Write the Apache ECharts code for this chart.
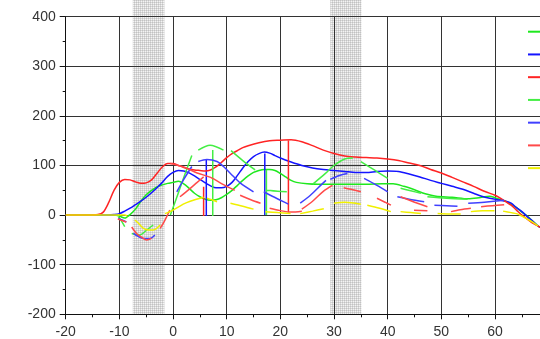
<!DOCTYPE html>
<html><head><meta charset="utf-8">
<script src="https://cdn.jsdelivr.net/npm/echarts@6/dist/echarts.min.js"></script>
<style>html,body{margin:0;padding:0;background:#fff;overflow:hidden}#c{width:540px;height:339px}</style>
</head><body><div id="c"></div>
<script>
// ---- data ----
const xRange = [-20, 70];
const yRange = [-200, 400];
const bands = [[-7.5, -1.6], [29.3, 35.1]];
const seriesNames = ['Series 1', 'Series 2', 'Series 3', 'Series 4', 'Series 5', 'Series 6', 'Series 7'];
const seriesColors = ['#1ee81e', '#1414ff', '#ff2424', '#44ee44', '#4040ff', '#ff4a4a', '#f0f000'];

const greenMain = [[[-20,0],[-11,0],[-10,-2],[-9,-6],[-8.5,-3],[-8,1],[-7,12],[-6,28],[-5,41],[-4,50],[-3,57],[-2,61],[-1,64],[0,66],[1,68],[2,63],[3,54],[4,44],[5,37],[6,32],[7,30],[8,31],[9,35],[10,42],[11,50],[12,60],[13,70],[14,79],[15,86],[16,90],[17,92],[18,92],[19,90],[20,84],[21,77],[22,70],[23,66],[25,63],[27,62],[30,62],[33,62],[36,62],[39,63],[41,63],[43,58],[45,51],[47,43],[49,38],[52,36],[55,33],[57,35],[59,38],[60,35],[61,31],[62,28],[63,22],[64,15],[65,6],[66,-2],[67,-12],[68,-22],[69,-28],[70,-34]]];
const blueMain = [[[-20,0],[-12,0],[-11,1],[-10,3],[-9,8],[-8,14],[-7,21],[-6,28],[-5,36],[-4,45],[-3,55],[-2,66],[-1,78],[0,86],[1,90],[2,89],[3,85],[4,79],[5,72],[6,65],[7,59],[8,55],[9,55],[10,58],[11,66],[12,80],[13,95],[14,108],[15,118],[16,124],[17,127],[18,125],[19,120],[20,115],[22,107],[24,100],[26,95],[28,92],[30,90],[32,88],[34,86],[36,86],[38,88],[40,89],[42,88],[44,83],[46,77],[48,70],[50,64],[52,58],[54,52],[56,44],[57.5,38],[59,34],[61,30],[62,28],[63,24],[64,15],[65,7],[66,-3],[67,-12],[68,-22],[69,-28],[70,-34]],
  [[6.2,111],[6.2,-2]], [[17.1,124],[17.1,0]]];
const redMain = [[[-20,0],[-16,0],[-14,1],[-13,6],[-12,25],[-11,50],[-10,66],[-9,72],[-8,71],[-7,67],[-6,64],[-5,65],[-4,71],[-3,84],[-2,97],[-1,104],[0,104],[1,100],[2,96],[3,93],[4,91],[5,90],[6,89],[7,91],[8,97],[9,106],[10,116],[11,124],[12,130],[13,136],[14,140],[16,146],[18,150],[20,151],[22,152],[24,148],[26,140],[28,131],[30,124],[32,119],[34,117],[36,116],[38,115],[40,113],[42,110],[44,105],[46,100],[48,92],[50,85],[52,76],[54,67],[56,58],[58,48],[60,40],[61,34],[62,27],[63,20],[64,10],[65,0],[66,-8],[67,-16],[68,-22],[69,-28],[70,-34]],
  [[21.5,151],[21.5,5]], [[5.7,57],[5.7,-2]]];
const greenSecond = [
  [[-10.2,-3],[-9.6,-12],[-9,-23]],
  [[-7.7,-37],[-6.2,-40],[-4.9,-30],[-3.7,-20]],
  [[-0.5,0],[1,45],[2.3,85],[3.5,120]],
  [[4.7,131],[6.9,141],[9.4,131]],
  [[7.4,131],[7.4,-2]], [[17.4,91],[17.4,0]],
  [[10.8,130],[13,110],[15.3,91]],
  [[17.5,50],[19.5,48],[21.2,47]],
  [[26,62],[28.4,84],[30,100],[32,113],[33.5,115]],
  [[35,108],[37.5,91],[40,74]],
  [[42.4,54],[44.3,49],[46.2,44]],
  [[47.4,37],[51,34],[54.9,32]]];
const blueSecond = [
  [[-10.2,-7],[-9.5,-10],[-8.7,-14]],
  [[-7.4,-37],[-6.5,-43],[-5.5,-47],[-4.3,-47],[-3.4,-40]],
  [[0.7,47],[2,72],[3.5,98]],
  [[4.7,108],[6.3,112],[8.2,108],[9.4,98],[10.7,84],[12.5,65],[15,47]],
  [[16.9,47],[18.5,38],[20,30],[21.5,22]],
  [[23.7,24],[25.6,40],[27.7,62],[28.5,70]],
  [[29.3,72],[31,80],[32.5,84]],
  [[35.6,74],[38,60],[40,47]],
  [[41.8,37],[44,32],[46.8,27]],
  [[48.7,20],[51,19],[53,18]],
  [[55,24],[58,26],[61.7,30]]];
const redSecond = [
  [[-10.3,-8],[-9.5,-11],[-8.7,-14]],
  [[-7.7,-24],[-6.8,-37],[-5.8,-45],[-4.9,-50],[-4,-47]],
  [[-2.4,-27],[-1.5,-10],[-0.6,10]],
  [[-0.5,104],[2,97],[4.5,85],[7,76],[9.3,62],[11.5,50]],
  [[1.3,37],[3,52],[4.5,66],[5.7,77]],
  [[12.5,40],[14.5,31],[16.3,24]],
  [[18,14],[20,9],[22,6],[24,8]],
  [[24,12],[26,28],[28,48],[29.7,60]],
  [[31.8,55],[33.5,51],[35,47]],
  [[38,34],[39.5,26],[40.6,20]],
  [[42.4,37],[45,26],[47.4,17]],
  [[44.9,10],[47.4,9]],
  [[51.8,7],[53.5,11],[55.5,14]],
  [[57.4,17],[59.5,19],[61.7,21]]];
const yellowLines = [
  [[-20,0],[-9,0],[-8.5,-2]],
  [[-7.1,-10],[-6.3,-18],[-5.5,-27],[-4.6,-30],[-3.7,-30],[-2.4,-20]],
  [[-1.5,3],[0,10],[1.9,22],[3.2,28],[5.7,36]],
  [[6.3,34],[7.2,31],[8.2,27]],
  [[10.7,24],[13,18],[15,12]],
  [[17.2,7],[19.5,5],[21.9,3]],
  [[23.7,3],[26,8],[28.1,13]],
  [[30,24],[32,26],[35,22]],
  [[36.2,20],[38.5,14],[40.6,7]],
  [[42.4,7],[44.3,5],[46.2,3]],
  [[49.3,3],[51.5,2],[53.6,2]],
  [[55.5,7],[57.7,9],[59.9,9]],
  [[61.5,8],[63,5],[64,3],[65,-2],[66,-8],[67,-14],[68,-22]]];

const allSegs = [greenMain, blueMain, redMain, greenSecond, blueSecond, redSecond, yellowLines];

function joinSegs(segs) {
  const out = [];
  segs.forEach((s, i) => { if (i) out.push(['-', '-']); s.forEach(p => out.push(p)); });
  return out;
}

// halftone pattern for bands
const pc = document.createElement('canvas');
pc.width = 2; pc.height = 2;
const pctx = pc.getContext('2d');
pctx.fillStyle = '#f4f4f4'; pctx.fillRect(0,0,2,2);
pctx.fillStyle = '#c2c2c2'; pctx.fillRect(0,0,1,1);
pctx.fillStyle = '#d8d8d8'; pctx.fillRect(1,0,1,1); pctx.fillRect(0,1,1,1);

const chart = echarts.init(document.getElementById('c'), null, {renderer: 'canvas'});
const font = "'Liberation Sans', Arial, sans-serif";
const series = [{
  type: 'custom', name: 'bands', z: -1, silent: true, clip: false,
  data: bands, encode: {x: [0, 1]},
  renderItem: function (params, api) {
    const p0 = api.coord([api.value(0), yRange[1]]);
    const p1 = api.coord([api.value(1), yRange[0]]);
    return {type: 'rect', shape: {x: p0[0], y: 0, width: p1[0] - p0[0], height: p1[1]},
      style: {fill: {image: pc, repeat: 'repeat'}}};
  }
}];
allSegs.forEach((segs, i) => {
  series.push({
    type: 'line', name: seriesNames[i], data: joinSegs(segs),
    showSymbol: false, symbol: 'none', smooth: 0.3, connectNulls: false,
    lineStyle: {color: seriesColors[i], width: 1.5},
    itemStyle: {color: seriesColors[i]},
    animation: false
  });
});

chart.setOption({
  animation: false,
  grid: {left: 65.7, top: 16.7, width: 483, height: 297.6, containLabel: false, outerBoundsMode: 'none'},
  legend: {
    data: seriesNames, orient: 'vertical', left: 528, top: 25.7, padding: 0,
    itemWidth: 25, itemHeight: 14, itemGap: 10.74,
    icon: 'path://M0,0h25v2h-25z',
    textStyle: {fontSize: 12, fontFamily: font, color: '#333'}
  },
  xAxis: {
    type: 'value', min: xRange[0], max: xRange[1], interval: 10,
    axisLine: {show: true, onZero: false, lineStyle: {color: '#111', width: 1}},
    axisTick: {show: true, length: 5, lineStyle: {color: '#111'}},
    minorTick: {show: true, splitNumber: 2, length: 3, lineStyle: {color: '#111'}},
    splitLine: {show: true, lineStyle: {color: '#333', width: 1}},
    axisLabel: {fontSize: 14, fontFamily: font, color: '#333', margin: 11}
  },
  yAxis: {
    type: 'value', min: yRange[0], max: yRange[1], interval: 100,
    axisLine: {show: true, onZero: false, lineStyle: {color: '#111', width: 1}},
    axisTick: {show: true, length: 6, lineStyle: {color: '#111'}},
    minorTick: {show: true, splitNumber: 2, length: 3, lineStyle: {color: '#111'}},
    splitLine: {show: true, lineStyle: {color: '#333', width: 1}},
    axisLabel: {fontSize: 14, fontFamily: font, color: '#333', margin: 10}
  },
  series: series
});
</script></body></html>
